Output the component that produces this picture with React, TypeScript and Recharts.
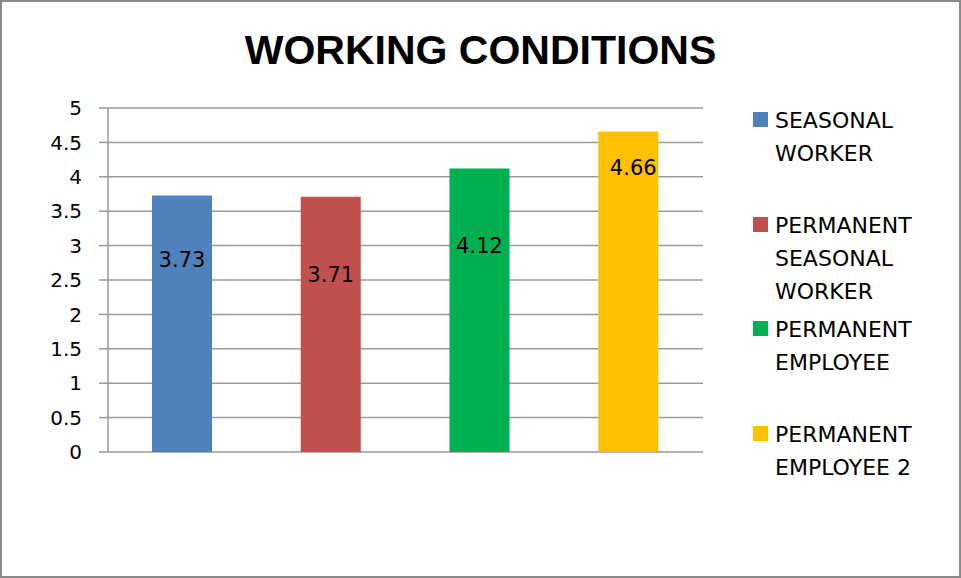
import React from 'react';
import { BarChart, Bar, XAxis, YAxis, CartesianGrid, Cell, LabelList } from 'recharts';

const categories = ['SEASONAL WORKER', 'PERMANENT SEASONAL WORKER', 'PERMANENT EMPLOYEE', 'PERMANENT EMPLOYEE 2'];
const scores = [3.73, 3.71, 4.12, 4.66];
const yTicks = [0, 0.5, 1, 1.5, 2, 2.5, 3, 3.5, 4, 4.5, 5];

const COLORS = ['#4F81BD', '#C0504D', '#00B050', '#FFC000'];
const GRID = '#9a9a9a';
const FONT = '"DejaVu Sans", sans-serif';

// data labels were dragged by hand in the original, so nudge each one
const labelDy = [72, 85, 84, 44];
const labelDx = [0, 0, 0, 5];

const data = categories.map((name, i) => ({ name, value: scores[i] }));

const ValueLabel = (props: any) => {
  const { x, y, width, value, index } = props;
  return (
    <text
      x={x + width / 2 + labelDx[index]}
      y={y + labelDy[index]}
      textAnchor="middle"
      fontFamily={FONT}
      fontSize={21}
      fill="#000"
    >
      {value}
    </text>
  );
};

const LegendBox = () => (
  <div style={{ position: 'absolute', left: 753, top: 104, width: 200 }}>
    {categories.map((name, i) => (
      <div key={name} style={{ position: 'relative', height: 104.7 }}>
        <div style={{ position: 'absolute', left: 0, top: 8, width: 15, height: 15, background: COLORS[i] }} />
        <div
          style={{
            position: 'absolute',
            left: 22,
            top: 0,
            width: 176,
            fontFamily: FONT,
            fontSize: 22,
            lineHeight: '33px',
            color: '#000',
          }}
        >
          {name}
        </div>
      </div>
    ))}
  </div>
);

export default function App() {
  return (
    <div style={{ position: 'absolute', left: 0, top: 0, width: 961, height: 578, background: '#fff', overflow: 'hidden' }}>
      <div
        style={{
          position: 'absolute',
          left: 0,
          top: 30,
          width: 961,
          textAlign: 'center',
          fontFamily: '"Liberation Sans", Arial, sans-serif',
          fontWeight: 700,
          fontSize: 41,
          lineHeight: '41px',
          color: '#000',
        }}
      >
        WORKING CONDITIONS
      </div>
      <div style={{ position: 'absolute', left: 0, top: 0 }}>
        <BarChart width={961} height={578} data={data} margin={{ top: 108, right: 258, bottom: 126, left: 0 }}>
          <CartesianGrid vertical={false} stroke={GRID} strokeWidth={1.5} />
          <XAxis dataKey="name" tick={false} tickLine={false} axisLine={{ stroke: GRID, strokeWidth: 1.5 }} height={0} />
          <YAxis
            domain={[0, 5]}
            ticks={yTicks}
            interval={0}
            width={108}
            tickSize={9}
            tickMargin={17}
            axisLine={{ stroke: GRID, strokeWidth: 1.5 }}
            tickLine={{ stroke: GRID, strokeWidth: 1.5 }}
            tick={{ fill: '#000', fontSize: 20, fontFamily: FONT }}
          />
          <Bar dataKey="value" barSize={60} isAnimationActive={false}>
            {data.map((d, i) => (
              <Cell key={d.name} fill={COLORS[i]} />
            ))}
            <LabelList dataKey="value" content={<ValueLabel />} />
          </Bar>
        </BarChart>
      </div>
      <LegendBox />
      <div
        style={{
          position: 'absolute',
          left: 0,
          top: 0,
          width: 961,
          height: 578,
          boxSizing: 'border-box',
          border: '2px solid #898989',
          pointerEvents: 'none',
        }}
      />
    </div>
  );
}
